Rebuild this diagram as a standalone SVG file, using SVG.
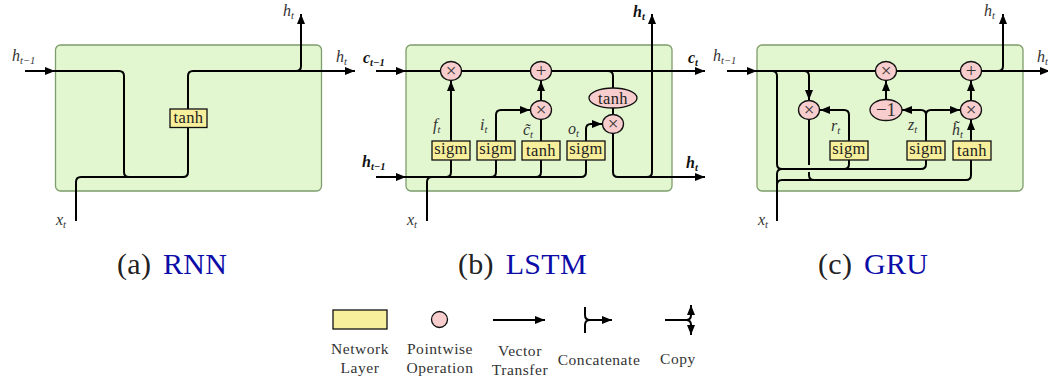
<svg xmlns="http://www.w3.org/2000/svg" width="1048" height="379" viewBox="0 0 1048 379">
<style>
text{font-family:"Liberation Serif","Times New Roman",serif;fill:#222}
.panel{fill:#e2f7d0;stroke:#7e9c6c;stroke-width:1.3}
.line{fill:none;stroke:#000;stroke-width:2}
.layer{fill:#f7ef9b;stroke:#111;stroke-width:1.3}
.op{fill:#f8cdcd;stroke:#111;stroke-width:1.3}
.nt{font-size:16.500px;text-anchor:middle;letter-spacing:.35px}
.ot{font-size:19px;text-anchor:middle;fill:#333}
.lb{font-size:16px;font-style:italic;fill:#333}
.bd{font-size:16px;font-style:italic;font-weight:bold;fill:#111}
.sub{font-size:10.500px}
.cap{font-size:30px;letter-spacing:.3px;word-spacing:4px}
.blue{fill:#0c0ca8}
.leg{font-size:15.500px;text-anchor:middle;fill:#333;letter-spacing:.55px}
</style>
<defs>
<marker id="ah" markerUnits="userSpaceOnUse" markerWidth="11" markerHeight="10" refX="10" refY="5" orient="auto"><path d="M0 1 L10 5 L0 9 Z" fill="#000"/></marker>
</defs>
<rect id="panel-a" class="panel" x="55.500" y="45" width="266" height="146" rx="5"/>
<rect id="panel-b" class="panel" x="406" y="45" width="266" height="146" rx="5"/>
<rect id="panel-c" class="panel" x="757" y="45" width="266" height="146" rx="5"/>
<g id="connectors">
<g class="line">
<path marker-end="url(#ah)" d="M25 71H55"/>
<path d="M55 71H119Q124 71 124 76V172Q124 177 129 177H137"/>
<path d="M76 221V182Q76 177 81 177H183Q188 177 188 172V76Q188 71 193 71H330"/>
<path marker-end="url(#ah)" d="M322 71H355"/>
<path marker-end="url(#ah)" d="M289 71H296Q301 71 301 66V14"/>

<path marker-end="url(#ah)" d="M376 71H406"/>
<path marker-end="url(#ah)" d="M406 71H705"/>
<path d="M608 71Q613 71 613 76V172Q613 177 618 177H672"/>
<path marker-end="url(#ah)" d="M376 177H406"/>
<path d="M406 177H581Q586 177 586 172V129Q586 124 591 124"/>
<path marker-end="url(#ah)" d="M590 124H602"/>
<path marker-end="url(#ah)" d="M446 177Q451 177 451 172V81"/>
<path marker-end="url(#ah)" d="M491 177Q496 177 496 172V115Q496 110 501 110H530"/>
<path d="M536 177Q541 177 541 172V110"/>
<path marker-end="url(#ah)" d="M541 100V81"/>
<path d="M427 221V182Q427 177 432 177"/>
<path marker-end="url(#ah)" d="M672 177H705"/>
<path marker-end="url(#ah)" d="M647 177Q652 177 652 172V14"/>

<path marker-end="url(#ah)" d="M727 71H757"/>
<path d="M757 71H1048"/>
<path marker-end="url(#ah)" d="M1025 71H1050"/>
<path d="M772 71Q777 71 777 76V164Q777 169 782 169H921Q926 169 926 164V115Q926 110 921 110"/>
<path marker-end="url(#ah)" d="M800 71H804Q809 71 809 76V100"/>
<path marker-end="url(#ah)" d="M921 110H902"/>
<path marker-end="url(#ah)" d="M926 115Q926 110 931 110H960"/>
<path marker-end="url(#ah)" d="M844 169Q849 169 849 164V115Q849 110 844 110H820"/>
<path d="M809 120V165"/>
<path d="M809 172V175Q809 180 814 180"/>
<path d="M777 221V174Q777 169 782 169"/>
<path marker-end="url(#ah)" d="M777 190V185Q777 180 782 180H966Q971 180 971 175V120"/>
<path marker-end="url(#ah)" d="M886 100V81"/>
<path marker-end="url(#ah)" d="M971 100V81"/>
<path marker-end="url(#ah)" d="M990 71H998Q1003 71 1003 66V14"/>
</g>
<g id="legend-connectors">
<path class="line" marker-end="url(#ah)" d="M493 320H545"/>
<path class="line" d="M585 307V315Q585 320 590 320H600M585 333V325Q585 320 590 320"/>
<path class="line" marker-end="url(#ah)" d="M590 320H612"/>
<path class="line" d="M665 320H686Q691 320 691 315M686 320Q691 320 691 325"/>
<path class="line" marker-end="url(#ah)" d="M691 316V305"/>
<path class="line" marker-end="url(#ah)" d="M691 324V335"/>
</g>
</g>

<g id="a-tanh"><rect class="layer" x="170" y="109" width="37" height="18.500"/><text class="nt" x="188.500" y="123">tanh</text></g>

<g id="b-forget-mul"><ellipse class="op" cx="451" cy="71" rx="10.500" ry="9.500"/><text class="ot" x="451" y="77">×</text></g>
<g id="b-add"><ellipse class="op" cx="541" cy="71" rx="10.500" ry="9.500"/><text class="ot" x="541" y="77">+</text></g>
<g id="b-input-mul"><ellipse class="op" cx="541" cy="110" rx="10.500" ry="9.500"/><text class="ot" x="541" y="116">×</text></g>
<g id="b-tanh-op"><ellipse class="op" cx="613" cy="98" rx="24" ry="10"/><text class="nt" x="613" y="103.500">tanh</text></g>
<g id="b-output-mul"><ellipse class="op" cx="613" cy="124" rx="10.500" ry="9.500"/><text class="ot" x="613" y="130">×</text></g>
<g id="b-sigm-f"><rect class="layer" x="432" y="141" width="38" height="19"/><text class="nt" x="451" y="154">sigm</text></g>
<g id="b-sigm-i"><rect class="layer" x="477" y="141" width="38" height="19"/><text class="nt" x="496" y="154">sigm</text></g>
<g id="b-tanh"><rect class="layer" x="522" y="141" width="38" height="19"/><text class="nt" x="541" y="155.500">tanh</text></g>
<g id="b-sigm-o"><rect class="layer" x="567" y="141" width="38" height="19"/><text class="nt" x="586" y="154">sigm</text></g>

<g id="c-neg-mul"><ellipse class="op" cx="886" cy="71" rx="10.500" ry="9.500"/><text class="ot" x="886" y="77">×</text></g>
<g id="c-add"><ellipse class="op" cx="971" cy="71" rx="10.500" ry="9.500"/><text class="ot" x="971" y="77">+</text></g>
<g id="c-reset-mul"><ellipse class="op" cx="809" cy="110" rx="10.500" ry="9.500"/><text class="ot" x="809" y="116">×</text></g>
<g id="c-neg"><ellipse class="op" cx="886" cy="110" rx="16" ry="10.500"/><text class="ot" x="886" y="116">−1</text></g>
<g id="c-update-mul"><ellipse class="op" cx="971" cy="110" rx="10.500" ry="9.500"/><text class="ot" x="971" y="116">×</text></g>
<g id="c-sigm-r"><rect class="layer" x="830" y="141" width="38" height="19"/><text class="nt" x="849" y="154">sigm</text></g>
<g id="c-sigm-z"><rect class="layer" x="907" y="141" width="38" height="19"/><text class="nt" x="926" y="154">sigm</text></g>
<g id="c-tanh"><rect class="layer" x="953" y="141" width="38" height="19"/><text class="nt" x="972" y="155.500">tanh</text></g>

<g id="labels">
<text class="lb" x="12" y="61">h<tspan class="sub" dy="3">t−1</tspan></text>
<text class="lb" x="336" y="62">h<tspan class="sub" dy="3">t</tspan></text>
<text class="lb" x="283" y="16">h<tspan class="sub" dy="3">t</tspan></text>
<text class="lb" x="56" y="225">x<tspan class="sub" dy="3">t</tspan></text>

<text class="bd" x="363" y="63">c<tspan class="sub" dy="3">t−1</tspan></text>
<text class="bd" x="362" y="167">h<tspan class="sub" dy="3">t−1</tspan></text>
<text class="bd" x="688" y="63">c<tspan class="sub" dy="3">t</tspan></text>
<text class="bd" x="686" y="168">h<tspan class="sub" dy="3">t</tspan></text>
<text class="bd" x="633" y="17">h<tspan class="sub" dy="3">t</tspan></text>
<text class="lb" x="407" y="225">x<tspan class="sub" dy="3">t</tspan></text>
<text class="lb" x="433" y="130">f<tspan class="sub" dy="3">t</tspan></text>
<text class="lb" x="480" y="130">i<tspan class="sub" dy="3">t</tspan></text>
<text class="lb" x="523" y="135">c̃<tspan class="sub" dy="3">t</tspan></text>
<text class="lb" x="568" y="134">o<tspan class="sub" dy="3">t</tspan></text>

<text class="lb" x="713" y="61">h<tspan class="sub" dy="3">t−1</tspan></text>
<text class="lb" x="1037" y="62">h<tspan class="sub" dy="3">t</tspan></text>
<text class="lb" x="984" y="16">h<tspan class="sub" dy="3">t</tspan></text>
<text class="lb" x="758" y="225">x<tspan class="sub" dy="3">t</tspan></text>
<text class="lb" x="831" y="131">r<tspan class="sub" dy="3">t</tspan></text>
<text class="lb" x="908" y="130">z<tspan class="sub" dy="3">t</tspan></text>
<text class="lb" x="952" y="135">h̃<tspan class="sub" dy="3">t</tspan></text>

<text class="cap" x="117" y="274">(a) <tspan class="blue">RNN</tspan></text>
<text class="cap" x="458" y="274">(b) <tspan class="blue">LSTM</tspan></text>
<text class="cap" x="818" y="274">(c) <tspan class="blue">GRU</tspan></text>
</g>

<g id="legend-layer"><rect class="layer" x="333" y="310" width="54" height="19"/><text class="leg" x="360" y="354">Network</text><text class="leg" x="360" y="373">Layer</text></g>
<g id="legend-op"><circle class="op" cx="439.500" cy="319.500" r="8"/><text class="leg" x="440" y="354">Pointwise</text><text class="leg" x="440" y="373">Operation</text></g>
<g id="legend-vector"><text class="leg" x="520" y="356">Vector</text><text class="leg" x="520" y="375">Transfer</text></g>
<g id="legend-concat"><text class="leg" x="599" y="365">Concatenate</text></g>
<g id="legend-copy"><text class="leg" x="678" y="364">Copy</text></g>
</svg>
